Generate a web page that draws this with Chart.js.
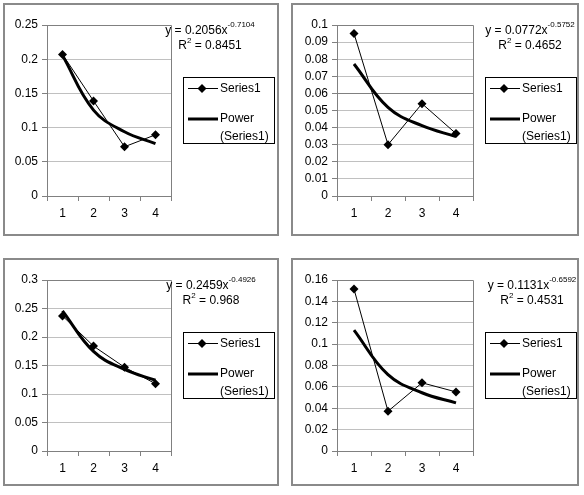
<!DOCTYPE html>
<html>
<head>
<meta charset="utf-8">
<script src="https://cdn.jsdelivr.net/npm/chart.js@4.4.0/dist/chart.umd.min.js"></script>
<style>
    body { margin: 0; background: #fff; width: 584px; height: 495px; position: relative; overflow: hidden; }
    .panel { position: absolute; box-sizing: border-box; border: 2px solid #8a8a8a; }
    canvas { position: absolute; }
</style>
</head>
<body>
<div class="panel" style="left:3px;top:3px;width:276px;height:233px"></div>
<div class="panel" style="left:291px;top:3px;width:288px;height:233px"></div>
<div class="panel" style="left:3px;top:258px;width:276px;height:228px"></div>
<div class="panel" style="left:291px;top:258px;width:288px;height:228px"></div>
<canvas id="c1" width="276" height="233" style="left:3px;top:3px"></canvas>
<canvas id="c2" width="288" height="233" style="left:291px;top:3px"></canvas>
<canvas id="c3" width="276" height="228" style="left:3px;top:258px"></canvas>
<canvas id="c4" width="288" height="228" style="left:291px;top:258px"></canvas>
<script>
// valores
const categories = ['1', '2', '3', '4'];

const series1A = [0.207, 0.139, 0.072, 0.0895];
const powerA = [0.2056, 0.1256, 0.094, 0.0767];
const series1B = [0.095, 0.030, 0.054, 0.0365];
const powerB = [0.0772, 0.0518, 0.0411, 0.0348];
const series1C = [0.237, 0.184, 0.147, 0.118];
const powerC = [0.2459, 0.1747, 0.1431, 0.1241];
const series1D = [0.1515, 0.0372, 0.0638, 0.0553];
const powerD = [0.1131, 0.0714, 0.0545, 0.045];

const yMaxes = [0.25, 0.1, 0.3, 0.16];
const ySteps = [0.05, 0.01, 0.05, 0.02];
const darkLines = [null, 0.06, null, 0.14];

const coefs = ['0.2056', '0.0772', '0.2459', '0.1131'];
const exponents = ['-0.7104', '-0.5752', '-0.4926', '-0.6592'];
const rSquared = ['0.8451', '0.4652', '0.968', '0.4531'];

const seriesLabel = 'Series1';
const powerLabel = ['Power', '(Series1)'];

const FONT = '"Liberation Sans", Arial, sans-serif';

// layout de cada panel
const panels = [
    { id: 'c1', series: series1A, power: powerA, yw: 44, xh: 40, padR: 108, eqX: 39 },
    { id: 'c2', series: series1B, power: powerB, yw: 46, xh: 40, padR: 106, eqX: 57 },
    { id: 'c3', series: series1C, power: powerC, yw: 44, xh: 35, padR: 108, eqX: 40 },
    { id: 'c4', series: series1D, power: powerD, yw: 46, xh: 35, padR: 106, eqX: 59 }
];

const excelPlugin = {
    id: 'excel',
    beforeDatasetsDraw(chart) {
        const ctx = chart.ctx, a = chart.chartArea;
        ctx.save();
        ctx.strokeStyle = '#808080';
        ctx.lineWidth = 1;
        ctx.beginPath();
        ctx.moveTo(a.left, Math.round(a.top) + 0.5);
        ctx.lineTo(Math.round(a.right) + 0.5, Math.round(a.top) + 0.5);
        ctx.lineTo(Math.round(a.right) + 0.5, a.bottom);
        ctx.stroke();
        ctx.restore();
    },
    afterDraw(chart) {
        const ctx = chart.ctx, a = chart.chartArea;
        const o = chart.options.plugins.excel;
        ctx.save();
        ctx.fillStyle = '#000';

        // ecuacion
        const cx = a.right + o.eqX;
        ctx.textBaseline = 'alphabetic';
        ctx.font = '12px ' + FONT;
        const main = 'y = ' + o.coef + 'x';
        const wMain = ctx.measureText(main).width;
        ctx.font = '8px ' + FONT;
        const wSup = ctx.measureText(o.exp).width;
        let x = cx - (wMain + wSup) / 2;
        const by = a.top + 9;
        ctx.font = '12px ' + FONT;
        ctx.fillText(main, x, by);
        ctx.font = '8px ' + FONT;
        ctx.fillText(o.exp, x + wMain, by - 7);

        // R2
        ctx.font = '12px ' + FONT;
        const wR = ctx.measureText('R').width;
        const rest = ' = ' + o.r2;
        const wRest = ctx.measureText(rest).width;
        ctx.font = '8px ' + FONT;
        const w2 = ctx.measureText('2').width;
        x = cx - (wR + w2 + wRest) / 2;
        const ry = a.top + 24;
        ctx.font = '12px ' + FONT;
        ctx.fillText('R', x, ry);
        ctx.fillText(rest, x + wR + w2, ry);
        ctx.font = '8px ' + FONT;
        ctx.fillText('2', x + wR, ry - 6);

        // leyenda
        const lx = Math.round(a.right) + 12, ly = Math.round(a.top) + 52;
        ctx.strokeStyle = '#000';
        ctx.lineWidth = 1;
        ctx.strokeRect(lx + 0.5, ly + 0.5, 91, 66);

        ctx.beginPath();
        ctx.moveTo(lx + 5, ly + 11.5);
        ctx.lineTo(lx + 35, ly + 11.5);
        ctx.stroke();
        const dx = lx + 19, dy = ly + 11.5, r = 4.5;
        ctx.beginPath();
        ctx.moveTo(dx, dy - r); ctx.lineTo(dx + r, dy); ctx.lineTo(dx, dy + r); ctx.lineTo(dx - r, dy);
        ctx.closePath();
        ctx.fill();

        ctx.lineWidth = 3;
        ctx.beginPath();
        ctx.moveTo(lx + 5, ly + 42);
        ctx.lineTo(lx + 35, ly + 42);
        ctx.stroke();

        ctx.font = '12px ' + FONT;
        ctx.textBaseline = 'middle';
        ctx.fillText(chart.data.datasets[0].label, lx + 37, ly + 12);
        ctx.fillText(powerLabel[0], lx + 37, ly + 42);
        ctx.fillText(powerLabel[1], lx + 37, ly + 60);
        ctx.restore();
    }
};

function fmt(v) {
    return parseFloat(v.toFixed(4)).toString();
}

panels.forEach((p, i) => {
    const dark = darkLines[i];
    new Chart(document.getElementById(p.id).getContext('2d'), {
        type: 'line',
        data: {
            labels: categories,
            datasets: [
                {
                    label: seriesLabel,
                    data: p.series,
                    borderColor: '#000',
                    borderWidth: 1,
                    backgroundColor: '#000',
                    pointStyle: 'rectRot',
                    pointRadius: 4.5,
                    pointBackgroundColor: '#000',
                    pointBorderColor: '#000',
                    pointBorderWidth: 0,
                    tension: 0,
                    order: 2
                },
                {
                    label: powerLabel.join(' '),
                    data: p.power,
                    borderColor: '#000',
                    borderWidth: 3,
                    pointRadius: 0,
                    tension: 0.4,
                    order: 1
                }
            ]
        },
        options: {
            responsive: false,
            animation: false,
            devicePixelRatio: 1,
            layout: { padding: { left: 0, top: 22, right: p.padR, bottom: 0 } },
            plugins: {
                legend: { display: false },
                tooltip: { enabled: false },
                excel: { coef: coefs[i], exp: exponents[i], r2: rSquared[i], eqX: p.eqX }
            },
            scales: {
                x: {
                    offset: true,
                    afterFit: (s) => { s.height = p.xh; },
                    grid: {
                        offset: true,
                        drawOnChartArea: false,
                        tickLength: 5,
                        tickColor: '#808080'
                    },
                    border: { color: '#808080' },
                    ticks: { color: '#000', padding: 5, font: { family: FONT, size: 12 } }
                },
                y: {
                    min: 0,
                    max: yMaxes[i],
                    afterFit: (s) => { s.width = p.yw; },
                    grid: {
                        color: (c) => (dark !== null && c.tick && Math.abs(c.tick.value - dark) < 1e-9) ? '#808080' : '#c0c0c0',
                        tickLength: 5,
                        tickColor: '#808080'
                    },
                    border: { color: '#808080' },
                    ticks: {
                        stepSize: ySteps[i],
                        autoSkip: false,
                        color: '#000',
                        padding: 4,
                        font: { family: FONT, size: 12 },
                        callback: (v) => fmt(v)
                    }
                }
            }
        },
        plugins: [excelPlugin]
    });
});
</script>
</body>
</html>
